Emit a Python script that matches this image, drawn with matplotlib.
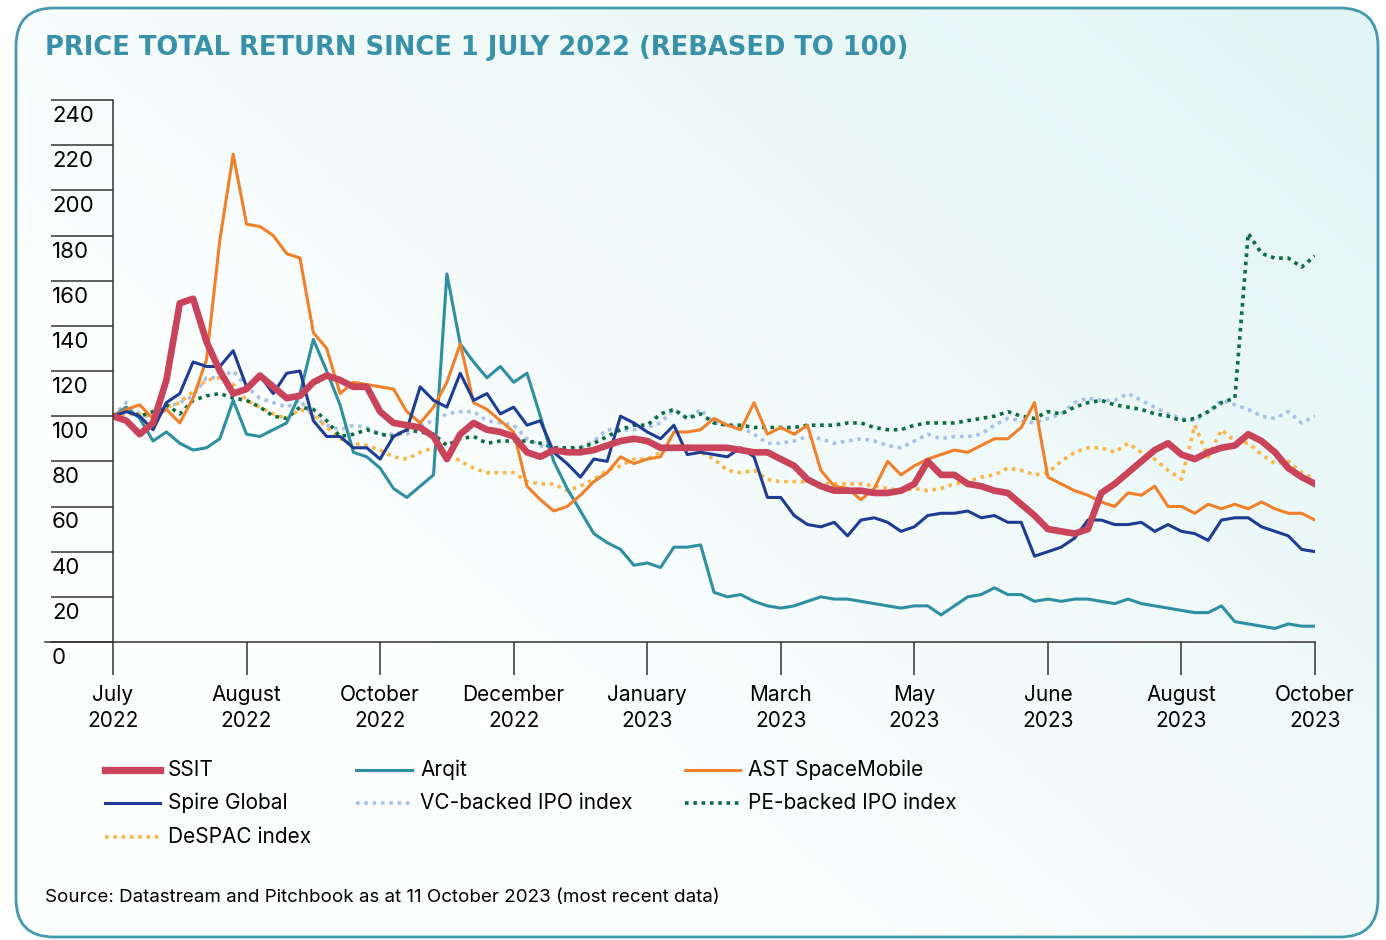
import matplotlib
matplotlib.use("Agg")
import matplotlib.pyplot as plt
import numpy as np
from matplotlib.patches import FancyBboxPatch

plt.rcParams['font.family'] = ['Inter', 'DejaVu Sans']

# x axis: ten equally spaced ticks, series read every 0.1 of a tick interval
tick_labels = ['July\n2022', 'August\n2022', 'October\n2022', 'December\n2022',
               'January\n2023', 'March\n2023', 'May\n2023', 'June\n2023',
               'August\n2023', 'October\n2023']
y_ticks = list(range(0, 241, 20))

ssit = [100, 98, 92, 97, 116, 150, 152, 133, 120, 110,
        112, 118, 113, 108, 109, 115, 118, 116, 113, 113,
        102, 97, 96, 95, 91, 81, 92, 97, 94, 93,
        91, 84, 82, 85, 84, 84, 85, 87, 89, 90,
        89, 86, 86, 86, 86, 86, 86, 85, 84, 84,
        81, 78, 72, 69, 67, 67, 67, 66, 66, 67,
        70, 80, 74, 74, 70, 69, 67, 66, 61, 56,
        50, 49, 48, 50, 66, 70, 75, 80, 85, 88,
        83, 81, 84, 86, 87, 92, 89, 84, 77, 73,
        70]

arqit = [100, 104, 99, 89, 93, 88, 85, 86, 90, 107,
         92, 91, 94, 97, 110, 134, 120, 105, 84, 82,
         77, 68, 64, 69, 74, 163, 132, 124, 117, 122,
         115, 119, 100, 80, 68, 58, 48, 44, 41, 34,
         35, 33, 42, 42, 43, 22, 20, 21, 18, 16,
         15, 16, 18, 20, 19, 19, 18, 17, 16, 15,
         16, 16, 12, 16, 20, 21, 24, 21, 21, 18,
         19, 18, 19, 19, 18, 17, 19, 17, 16, 15,
         14, 13, 13, 16, 9, 8, 7, 6, 8, 7,
         7]

ast = [100, 103, 105, 99, 103, 97, 108, 125, 178, 216,
       185, 184, 180, 172, 170, 137, 130, 110, 115, 114,
       113, 112, 102, 97, 104, 115, 132, 106, 103, 98,
       93, 69, 63, 58, 60, 65, 71, 75, 82, 79,
       81, 82, 93, 93, 94, 99, 96, 94, 106, 92,
       95, 92, 96, 76, 69, 68, 63, 68, 80, 74,
       78, 81, 83, 85, 84, 87, 90, 90, 95, 106,
       73, 70, 67, 65, 62, 60, 66, 65, 69, 60,
       60, 57, 61, 59, 61, 59, 62, 59, 57, 57,
       54]

spire = [100, 102, 100, 94, 106, 110, 124, 122, 122, 129,
         113, 118, 110, 119, 120, 98, 91, 91, 86, 86,
         81, 91, 94, 113, 107, 104, 119, 107, 110, 101,
         104, 96, 98, 84, 79, 73, 81, 80, 100, 97,
         93, 90, 96, 83, 84, 83, 82, 86, 82, 64,
         64, 56, 52, 51, 53, 47, 54, 55, 53, 49,
         51, 56, 57, 57, 58, 55, 56, 53, 53, 38,
         40, 42, 46, 54, 54, 52, 52, 53, 49, 52,
         49, 48, 45, 54, 55, 55, 51, 49, 47, 41,
         40]

vc_ipo = [100, 106, 101, 99, 104, 106, 109, 117, 117, 120,
          113, 108, 106, 104, 107, 100, 96, 94, 96, 95,
          92, 92, 92, 96, 98, 101, 102, 102, 98, 97,
          96, 90, 87, 85, 85, 86, 89, 94, 94, 94,
          95, 97, 103, 99, 103, 97, 96, 95, 92, 88,
          88, 89, 91, 90, 88, 89, 90, 89, 87, 86,
          89, 92, 90, 91, 91, 92, 96, 99, 98, 97,
          99, 101, 106, 108, 107, 107, 110, 107, 104, 101,
          99, 98, 102, 107, 105, 103, 100, 99, 102, 97,
          100]

pe_ipo = [100, 103, 100, 102, 105, 101, 107, 109, 110, 108,
          107, 104, 100, 99, 104, 103, 98, 91, 92, 94,
          92, 91, 94, 93, 92, 87, 90, 91, 88, 89,
          89, 89, 88, 86, 86, 86, 88, 91, 94, 96,
          96, 101, 103, 99, 101, 97, 96, 96, 95, 95,
          95, 95, 96, 96, 96, 97, 97, 95, 94, 94,
          96, 97, 97, 97, 98, 99, 100, 102, 100, 99,
          102, 101, 104, 106, 107, 105, 104, 103, 101, 100,
          98, 99, 102, 106, 108, 181, 172, 170, 170, 166,
          171]

despac = [100, 101, 101, 100, 104, 106, 111, 116, 117, 114,
          107, 104, 101, 99, 103, 101, 95, 90, 88, 87,
          85, 82, 81, 84, 86, 84, 80, 77, 75, 75,
          75, 71, 70, 70, 67, 69, 72, 76, 78, 81,
          81, 84, 87, 87, 84, 81, 76, 75, 76, 72,
          71, 71, 71, 70, 70, 70, 70, 69, 68, 67,
          68, 67, 68, 70, 71, 73, 74, 77, 76, 74,
          75, 80, 84, 86, 86, 84, 88, 84, 81, 76,
          72, 96, 82, 94, 89, 88, 83, 79, 80, 75,
          72]

x = np.arange(len(ssit)) / 10

fig = plt.figure(figsize=(13.86, 9.4), dpi=100)

# background panel in pixel coordinates (y down)
bg = fig.add_axes([0, 0, 1, 1], zorder=0)
bg.set_xlim(0, 1386)
bg.set_ylim(940, 0)
bg.axis('off')

gx, gy = np.meshgrid(np.linspace(0, 1, 300), np.linspace(0, 1, 200))
t = np.clip(0.75 * gx + 0.6 * (1 - gy) - 0.4, 0, 1)
c0 = np.array([0.995, 1.0, 1.0])
c1 = np.array([0.87, 0.955, 0.95])
grad = c0 + (c1 - c0) * t[..., None]
im = bg.imshow(grad, extent=[16, 1378, 938, 8], aspect='auto', zorder=0)
box = FancyBboxPatch((16, 8), 1362, 929, boxstyle='round,pad=0,rounding_size=38',
                     fc='none', ec='#4399ad', lw=2, zorder=2)
bg.add_patch(box)
im.set_clip_path(box)

bg.text(45, 48, 'PRICE TOTAL RETURN SINCE 1 JULY 2022 (REBASED TO 100)',
        color='#3891a8', fontsize=18.5, fontweight='bold', va='center',
        family='DejaVu Sans')
bg.plot([45, 113], [642, 642], color='#333333', lw=1.1)

# main chart
ax = fig.add_axes([113 / 1386, (940 - 642) / 940, (1315 - 113) / 1386, (642 - 100) / 940],
                  zorder=1)
ax.patch.set_alpha(0)

series = [
    ('VC-backed IPO index', vc_ipo, '#a9c0ea', 2.6, (0, (1, 1.3))),
    ('DeSPAC index', despac, '#fbb645', 2.6, (0, (1, 1.3))),
    ('PE-backed IPO index', pe_ipo, '#0c6e40', 2.6, (0, (1, 1.3))),
    ('Arqit', arqit, '#2e8fa3', 2.2, '-'),
    ('AST SpaceMobile', ast, '#f0802a', 2.2, '-'),
    ('Spire Global', spire, '#1f3c94', 2.2, '-'),
    ('SSIT', ssit, '#c9435a', 4.8, '-'),
]
styles = {}
for name, vals, col, lw, ls in series:
    ax.plot(x, vals, color=col, lw=lw, ls=ls, solid_joinstyle='round')
    styles[name] = (col, lw, ls)

ax.set_xlim(0, 9)
ax.set_ylim(0, 240)
ax.set_xticks(range(len(tick_labels)))
ax.set_xticklabels(tick_labels, fontsize=15, linespacing=1.35)
ax.set_yticks(y_ticks)
ax.tick_params(axis='x', length=24, width=1.1, color='#333333', pad=7)
ax.tick_params(axis='y', length=45, width=1.1, color='#333333', labelleft=False)
for v in y_ticks:
    ax.annotate(str(v), xy=(0, v), xycoords=('axes fraction', 'data'),
                xytext=(-61, -6), textcoords='offset pixels',
                ha='left', va='top', fontsize=16)
for s in ['top', 'right']:
    ax.spines[s].set_visible(False)
for s in ['left', 'bottom']:
    ax.spines[s].set_color('#333333')
    ax.spines[s].set_linewidth(1.1)

# legend, three columns filled row by row
legend_items = [
    ('SSIT', 0, 0), ('Arqit', 1, 0), ('AST SpaceMobile', 2, 0),
    ('Spire Global', 0, 1), ('VC-backed IPO index', 1, 1), ('PE-backed IPO index', 2, 1),
    ('DeSPAC index', 0, 2),
]
col_x = [(105, 160, 168), (356, 412, 420), (685, 740, 748)]
row_y = [770, 803, 837]
for name, c, r in legend_items:
    col, lw, ls = styles[name]
    x0, x1, tx = col_x[c]
    bg.plot([x0, x1], [row_y[r], row_y[r]], color=col, lw=lw + (0.4 if name == 'SSIT' else 0), ls=ls)
    bg.text(tx, row_y[r], name, va='center', fontsize=15)

bg.text(45, 897, 'Source: Datastream and Pitchbook as at 11 October 2023 (most recent data)',
        va='center', fontsize=13.5)

fig.savefig('out.png', dpi=100)
